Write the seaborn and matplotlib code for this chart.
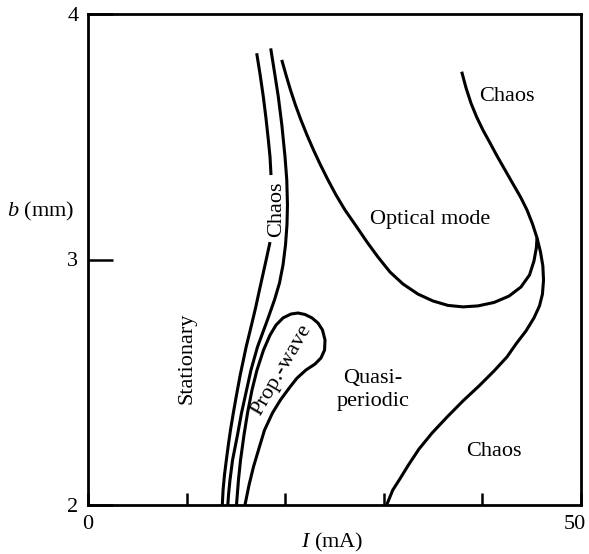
import numpy as np
import pandas as pd
import matplotlib
matplotlib.use("Agg")
import matplotlib.pyplot as plt
import matplotlib.transforms as mtransforms
import seaborn as sns

# ---- data (I in mA, b in mm) ----
lineA_low_I = [13.62, 13.70, 13.84, 14.03, 14.23, 14.45, 14.74, 15.06, 15.44, 16.04,
               16.58, 16.99, 17.39, 18.00, 18.46]
lineA_low_b = [2.000, 2.061, 2.122, 2.183, 2.244, 2.305, 2.375, 2.448, 2.530, 2.644,
               2.733, 2.802, 2.876, 2.986, 3.071]

lineA_up_I = [18.56, 18.46, 18.29, 18.05, 17.78, 17.46, 17.11]
lineA_up_b = [3.344, 3.418, 3.487, 3.576, 3.663, 3.752, 3.840]

lineB_I = [18.53, 18.91, 19.30, 19.66, 19.98, 20.16, 20.23, 20.18, 20.03, 19.78, 19.42,
           18.91, 18.20, 17.19, 16.53, 16.08, 15.57, 15.16, 14.66, 14.40, 14.25, 14.18]
lineB_b = [3.860, 3.764, 3.663, 3.548, 3.419, 3.324, 3.222, 3.141, 3.059, 2.978, 2.904,
           2.835, 2.754, 2.644, 2.550, 2.468, 2.375, 2.285, 2.183, 2.102, 2.041, 2.000]

loop_I = [15.06, 15.26, 15.47, 15.82, 16.18, 16.63, 17.14, 17.80, 18.46, 19.07, 19.78,
          20.59, 21.30, 22.01, 22.72, 23.33, 23.78, 24.04, 23.99, 23.63, 23.02, 22.11,
          21.20, 20.49, 19.52, 18.71, 17.90, 17.29, 16.78, 16.33, 15.92]
loop_b = [2.000, 2.102, 2.183, 2.285, 2.375, 2.468, 2.550, 2.631, 2.692, 2.733, 2.762,
          2.778, 2.782, 2.776, 2.762, 2.741, 2.713, 2.672, 2.631, 2.599, 2.574, 2.550,
          2.517, 2.481, 2.428, 2.375, 2.305, 2.224, 2.155, 2.081, 2.000]

optical_I = [19.65, 20.08, 20.54, 21.04, 21.60, 22.21, 22.87, 23.58, 24.34, 25.15,
             26.06, 27.18, 28.30, 29.41, 30.63, 31.95, 33.47, 34.99, 36.51, 38.03,
             39.55, 41.18, 42.70, 43.91, 44.78, 45.23, 45.47, 45.54]
optical_b = [3.813, 3.752, 3.690, 3.629, 3.568, 3.507, 3.446, 3.385, 3.324, 3.263,
             3.202, 3.137, 3.071, 3.010, 2.949, 2.900, 2.859, 2.831, 2.813, 2.807,
             2.811, 2.825, 2.851, 2.888, 2.937, 2.994, 3.047, 3.088]

chaos_I = [37.90, 38.34, 38.84, 39.42, 40.06, 40.77, 41.48, 42.29, 43.10, 43.86, 44.52,
           45.08, 45.54, 45.89, 46.13, 46.20, 46.09, 45.79, 45.23, 44.42, 43.41, 42.49,
           41.18, 39.66, 38.03, 36.41, 34.89, 33.57, 32.50, 31.69, 30.91, 30.29]
chaos_b = [3.765, 3.699, 3.637, 3.580, 3.527, 3.475, 3.422, 3.365, 3.308, 3.255, 3.202,
           3.145, 3.088, 3.031, 2.974, 2.916, 2.859, 2.811, 2.762, 2.709, 2.656, 2.603,
           2.546, 2.485, 2.424, 2.358, 2.293, 2.228, 2.163, 2.110, 2.061, 2.000]

x_ticks = [0, 10, 20, 30, 40, 50]
x_ticklabels = ["0", "", "", "", "", "50"]
y_ticks = [2, 3, 4]
y_ticklabels = ["2", "3", "4"]

region_labels = ["Stationary", "Chaos", "Prop.-wave", "Optical mode", "Chaos",
                 "Quasi-\nperiodic", "Chaos"]
region_I = [10.04, 19.17, 19.68, 34.69, 42.49, 28.90, 41.18]
region_b = [2.599, 3.206, 2.550, 3.161, 3.662, 2.468, 2.216]
region_rot = [90, 90, 60, 0, 0, 0, 0]

# ---- style ----
sns.set_theme(style="white")
plt.rcParams["font.family"] = ["Liberation Serif", "DejaVu Serif"]
plt.rcParams["mathtext.fontset"] = "custom"
plt.rcParams["mathtext.rm"] = "Liberation Serif"
plt.rcParams["mathtext.it"] = "Liberation Serif:italic"

fig = plt.figure(figsize=(5.89, 5.54), dpi=100)
ax = fig.add_axes([88 / 589, 1 - 505 / 554, 493 / 589, 491 / 554])

curves = [
    (lineA_low_I, lineA_low_b),
    (lineA_up_I, lineA_up_b),
    (lineB_I, lineB_b),
    (loop_I, loop_b),
    (optical_I, optical_b),
    (chaos_I, chaos_b),
]
for xs, ys in curves:
    df = pd.DataFrame({"I": xs, "b": ys})
    sns.lineplot(data=df, x="I", y="b", sort=False, estimator=None,
                 color="black", linewidth=2.2, ax=ax,
                 solid_joinstyle="round", solid_capstyle="butt")

ax.set_xlim(0, 50)
ax.set_ylim(2, 4)

for s in ax.spines.values():
    s.set_visible(True)
    s.set_color("black")
    s.set_linewidth(2.0)

ax.set_xticks(x_ticks)
ax.set_xticklabels(x_ticklabels)
ax.set_yticks(y_ticks)
ax.set_yticklabels(y_ticklabels)
ax.tick_params(axis="x", direction="in", length=9, width=1.8, pad=7,
               labelsize=16, colors="black", bottom=True)
ax.tick_params(axis="y", direction="in", length=18, width=1.8, pad=7,
               labelsize=16, colors="black", left=True)

# shift the "50" label slightly left so it stays inside the figure
lab50 = ax.get_xticklabels()[-1]
lab50.set_transform(lab50.get_transform() +
                    mtransforms.ScaledTranslation(-6 / 100, 0, fig.dpi_scale_trans))

ax.set_xlabel("$I$ (mA)", fontsize=16, color="black", va="center")
ax.xaxis.set_label_coords(0.495, -0.077)
ax.set_ylabel("$b$ (mm)", fontsize=16, color="black", rotation=0,
              ha="center", va="center")
ax.yaxis.set_label_coords(-0.097, 0.597)

for txt, xi, yi, rot in zip(region_labels, region_I, region_b, region_rot):
    ax.text(xi, yi, txt, rotation=rot, ha="center", va="center",
            fontsize=16, color="black", rotation_mode="anchor",
            linespacing=1.3)

fig.savefig("out.png", dpi=100)
